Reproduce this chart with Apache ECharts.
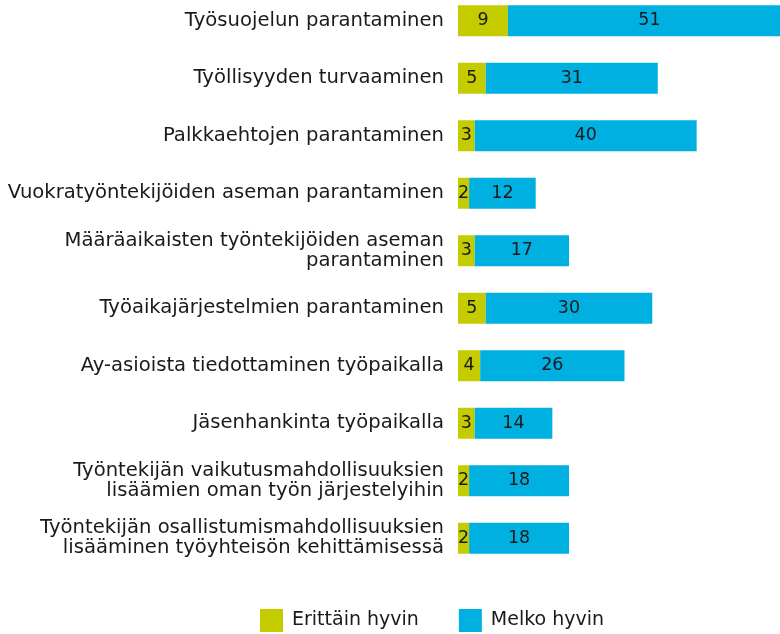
<!DOCTYPE html>
<html>
<head>
<meta charset="utf-8">
<script src="https://cdn.jsdelivr.net/npm/echarts@6/dist/echarts.min.js"></script>
<style>
  html, body { margin: 0; padding: 0; background: #fff; }
  #chart { width: 780px; height: 634px; }
</style>
</head>
<body>
<div id="chart"></div>
<script>
// categories top to bottom
const categories = [
  'Työsuojelun parantaminen',
  'Työllisyyden turvaaminen',
  'Palkkaehtojen parantaminen',
  'Vuokratyöntekijöiden aseman parantaminen',
  'Määräaikaisten työntekijöiden aseman\nparantaminen',
  'Työaikajärjestelmien parantaminen',
  'Ay-asioista tiedottaminen työpaikalla',
  'Jäsenhankinta työpaikalla',
  'Työntekijän vaikutusmahdollisuuksien\nlisäämien oman työn järjestelyihin',
  'Työntekijän osallistumismahdollisuuksien\nlisääminen työyhteisön kehittämisessä'
];
const erittainHyvin = [9, 5, 3, 2, 3, 5, 4, 3, 2, 2];
const melkoHyvin = [51, 31, 40, 12, 17, 30, 26, 14, 18, 18];
const seriesNames = ['Erittäin hyvin', 'Melko hyvin'];

const FONT = 'DejaVu Sans';
const chart = echarts.init(document.getElementById('chart'));

const labelStyle = {
  show: true,
  position: 'inside',
  color: '#1a1a1a',
  fontFamily: FONT,
  fontSize: 17.5
};

chart.setOption({
  animation: false,
  textStyle: { fontFamily: FONT },
  grid: {
    left: 458, top: -8, width: 333, height: 575,
    outerBoundsMode: 'none'
  },
  legend: {
    data: seriesNames,
    left: 255,
    top: 604,
    itemWidth: 23,
    itemHeight: 23,
    itemGap: 40,
    icon: 'rect',
    textStyle: { fontSize: 19, color: '#1a1a1a', padding: [0, 0, 0, 4] }
  },
  xAxis: {
    type: 'value',
    min: 0,
    max: 60,
    show: false
  },
  yAxis: {
    type: 'category',
    data: categories,
    inverse: true,
    axisLine: { show: false },
    axisTick: { show: false },
    axisLabel: {
      margin: 14,
      color: '#1a1a1a',
      fontSize: 19.6,
      lineHeight: 20,
      align: 'right'
    }
  },
  series: [
    {
      name: seriesNames[0],
      type: 'bar',
      stack: 'total',
      data: erittainHyvin,
      barWidth: 31,
      clip: false,
      itemStyle: { color: '#c4cc00' },
      label: labelStyle
    },
    {
      name: seriesNames[1],
      type: 'bar',
      stack: 'total',
      data: melkoHyvin,
      barWidth: 31,
      clip: false,
      itemStyle: { color: '#00b0e1' },
      label: labelStyle
    }
  ]
});
</script>
</body>
</html>
